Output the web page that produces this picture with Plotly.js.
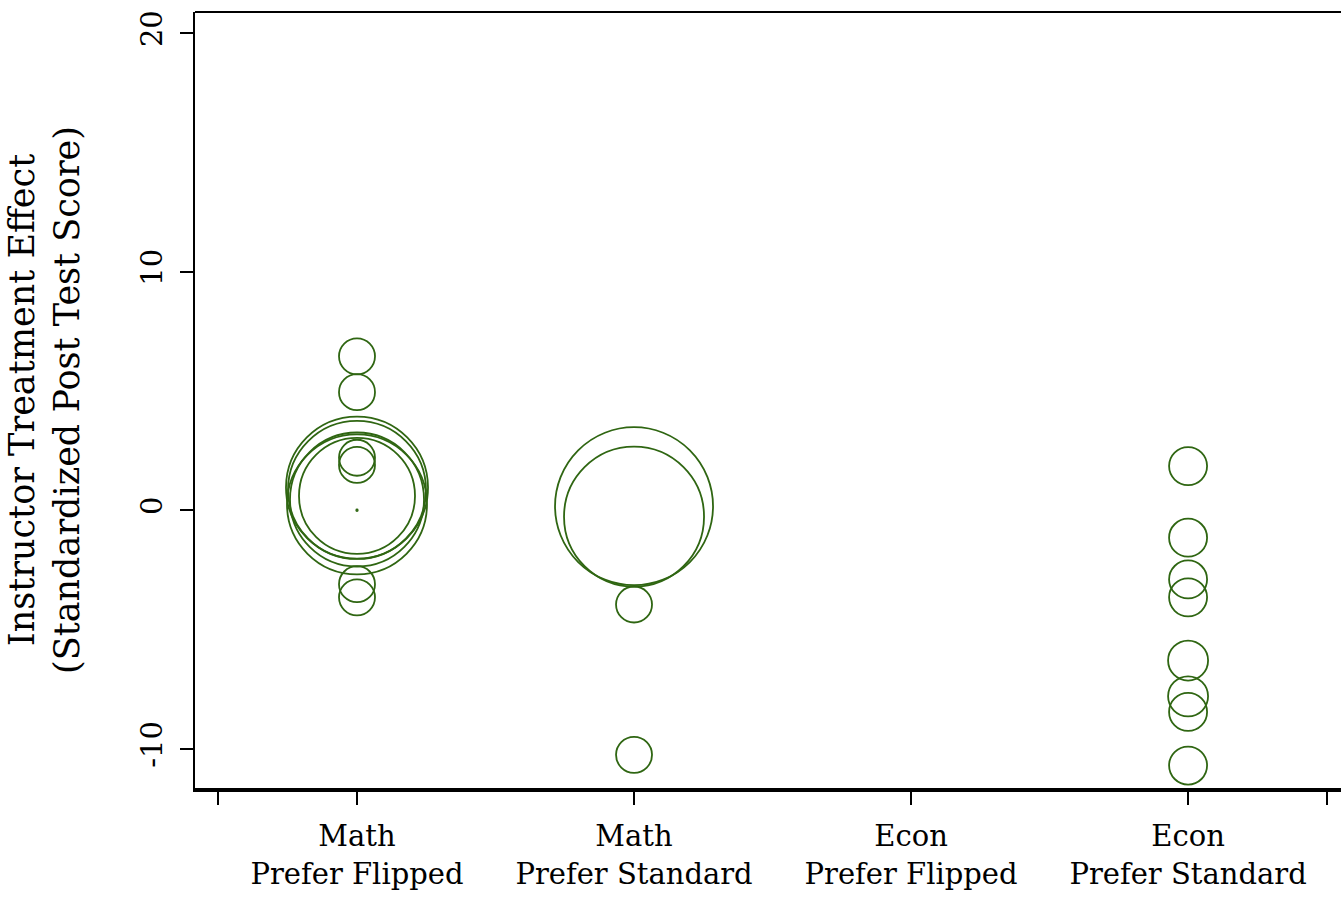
<!DOCTYPE html>
<html>
<head>
<meta charset="utf-8">
<script src="https://cdn.plot.ly/plotly-3.0.1.min.js"></script>
<style>html,body{margin:0;padding:0;background:#fff;}#chart{width:1341px;height:897px;}</style>
</head>
<body>
<div id="chart"></div>
<script>
// Category positions and labels
const categories = ["Math<br>Prefer Flipped", "Math<br>Prefer Standard", "Econ<br>Prefer Flipped", "Econ<br>Prefer Standard"];
const categoryPos = [1, 2, 3, 4];

// Instructor treatment effects (group index, effect, weight)
const groupIndex = [1, 1, 1, 1, 1, 1, 1, 1, 1, 1, 1, 1,
                    2, 2, 2, 2,
                    4, 4, 4, 4, 4, 4, 4, 4];
const effects = [6.45, 4.95, 2.2, 1.9, 0.95, 0.85, 0.6, 0.45, 0.25, 0.0, -3.1, -3.65,
                 0.17, -0.27, -3.95, -10.25,
                 1.85, -1.15, -2.9, -3.65, -6.3, -7.8, -8.45, -10.7];
const weights = [36, 36, 36, 36, 142, 138, 116, 134, 140, 1.5, 36, 36,
                 158, 140, 36, 36,
                 38, 38, 38, 38, 40, 40, 38, 38];

const yTicks = [-10, 0, 10, 20];

const green = "#2f6612";
const fontFam = "DejaVu Serif, serif";

const trace = {
  x: groupIndex,
  y: effects,
  type: "scatter",
  mode: "markers",
  marker: {
    symbol: "circle-open",
    size: weights,
    sizemode: "diameter",
    sizeref: 1,
    color: green,
    opacity: 1,
    line: {width: 1.8, color: green}
  },
  hoverinfo: "x+y"
};

const layout = {
  width: 1341,
  height: 897,
  margin: {l: 195, r: 0, t: 12, b: 109},
  paper_bgcolor: "#ffffff",
  plot_bgcolor: "#ffffff",
  showlegend: false,
  font: {family: fontFam, color: "#000"},
  xaxis: {
    range: [0.4152, 4.552],
    tickvals: [0.5].concat(categoryPos).concat([4.5]),
    ticktext: [""].concat(categories).concat([""]),
    ticks: "outside",
    ticklen: 13,
    tickwidth: 2,
    tickcolor: "#000",
    ticklabelstandoff: 7,
    showline: true,
    linewidth: 3.5,
    linecolor: "#000",
    showgrid: false,
    zeroline: false,
    tickfont: {family: fontFam, size: 29, color: "#000"}
  },
  yaxis: {
    range: [-11.64, 20.88],
    tickvals: yTicks,
    ticktext: yTicks.map(String),
    tickangle: -90,
    ticks: "outside",
    ticklen: 13,
    tickwidth: 2,
    tickcolor: "#000",
    ticklabelstandoff: 6,
    showline: true,
    linewidth: 2,
    linecolor: "#000",
    showgrid: false,
    zeroline: false,
    tickfont: {family: fontFam, size: 29, color: "#000"},
    title: {
      text: "Instructor Treatment Effect<br>(Standardized Post Test Score)",
      font: {family: fontFam, size: 35, color: "#000"},
      standoff: 45
    }
  },
  shapes: [{
    type: "line", xref: "paper", yref: "paper",
    x0: 0, x1: 1, y0: 1, y1: 1,
    line: {color: "#000", width: 2}
  }]
};

Plotly.newPlot("chart", [trace], layout, {displayModeBar: false, staticPlot: true});
</script>
</body>
</html>
